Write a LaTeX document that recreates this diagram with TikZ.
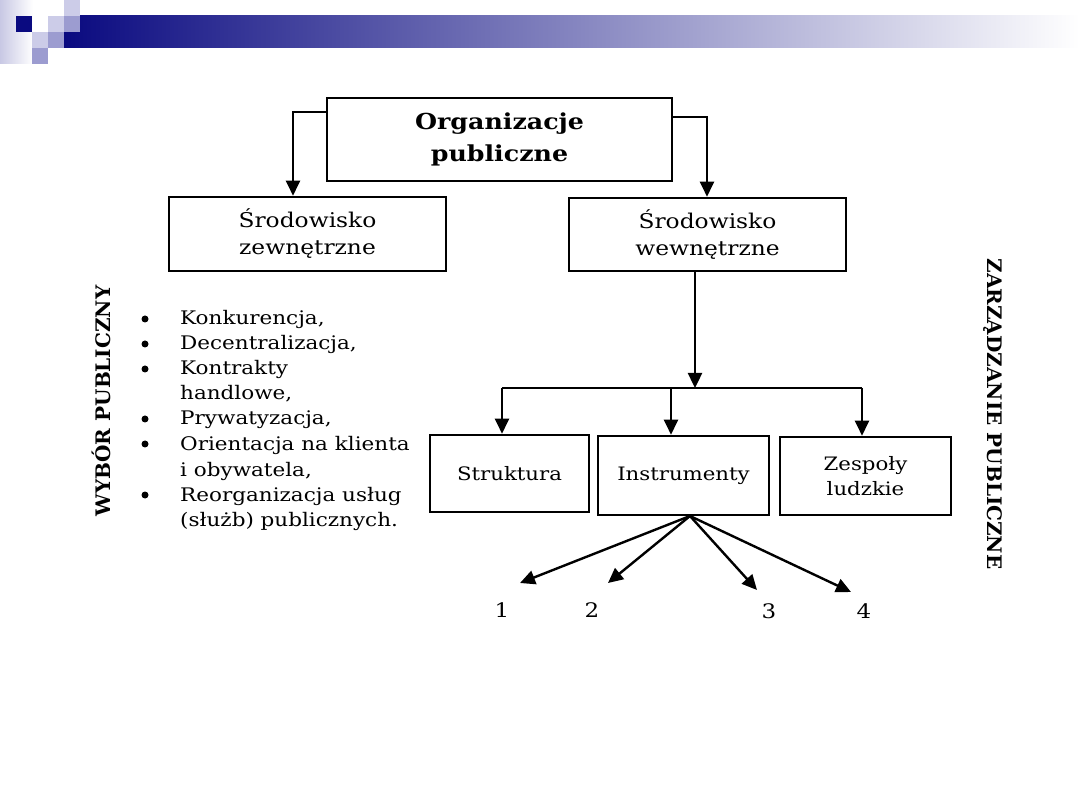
\documentclass[tikz,border=0pt]{standalone}
\usepackage{fontspec}
\setmainfont{DejaVu Serif}[FakeStretch=1.15]
\newfontfamily\plainserif{DejaVu Serif}
\usetikzlibrary{arrows.meta}
\definecolor{navy}{RGB}{10,10,128}
\definecolor{lightlav}{RGB}{204,204,232}
\definecolor{medlav}{RGB}{156,156,208}
\definecolor{pale}{RGB}{200,200,228}
\tikzset{
  box/.style={draw=black, line width=2.6pt, fill=white, inner sep=0pt, align=center,
              font=\fontsize{20.3}{27}\selectfont},
  smallbox/.style={box, font=\fontsize{18.5}{25}\selectfont},
  arr/.style={line width=2.4pt, -{Triangle[length=15pt,width=14pt]}},
  conn/.style={line width=2.4pt},
  itemtext/.style={anchor=base west, inner sep=0pt, font=\fontsize{18.7}{25}\selectfont},
  bul/.style={circle, fill=black, inner sep=0pt, minimum size=7pt},
  vlabel/.style={font=\plainserif\bfseries\fontsize{20}{24}\selectfont, inner sep=0pt},
  num/.style={font=\fontsize{20}{25}\selectfont, inner sep=0pt}
}
\begin{document}
\begin{tikzpicture}[x=1pt,y=-1pt]
\useasboundingbox (0,0) rectangle (1080,810);
% ---- banner ----
\shade[left color=pale, right color=white] (0,0) rectangle (33,64);
\shade[left color=navy, right color=white] (64,16) rectangle (1080,48);
\fill[navy] (16,16) rectangle (32,32);
\fill[lightlav] (64,0) rectangle (80,16);
\fill[lightlav] (48,16) rectangle (64,32);
\fill[medlav] (64,16) rectangle (80,32);
\fill[lightlav] (32,32) rectangle (48,48);
\fill[medlav] (48,32) rectangle (64,48);
\fill[medlav] (32,48) rectangle (48,64);
% ---- boxes ----
\node[box, minimum width=345pt, minimum height=83pt, font=\bfseries\fontsize{22}{32}\selectfont]
  (org) at (499.5,139.5) {Organizacje\\publiczne};
\node[box, minimum width=277pt, minimum height=74pt] (lb) at (307.5,234) {Środowisko\\zewnętrzne};
\node[box, minimum width=277pt, minimum height=73pt] (rb) at (707.5,234.5) {Środowisko\\wewnętrzne};
\node[smallbox, minimum width=159pt, minimum height=77pt] (s) at (509.5,473.5) {Struktura};
\node[smallbox, minimum width=171pt, minimum height=79pt] (ins) at (683.5,475.5) {Instrumenty};
\node[smallbox, minimum width=171pt, minimum height=78pt] (z) at (865.5,476) {Zespoły\\ludzkie};
% ---- top connectors ----
\coordinate (la) at (293,112);
\coordinate (ra) at (707,117);
\draw[arr] (org.west |- la) -- (la) -- (la |- lb.north);
\draw[arr] (org.east |- ra) -- (ra) -- (ra |- rb.north);
% ---- distribution ----
\coordinate (hub) at (695,388);
\coordinate (hl) at (502,388);
\coordinate (hm) at (671,388);
\coordinate (hr) at (862,388);
\draw[arr] (rb.south -| hub) -- (hub);
\draw[conn] (hl) -- (hr);
\draw[arr] (hl) -- (hl |- s.north);
\draw[arr] (hm) -- (hm |- ins.north);
\draw[arr] (hr) -- (hr |- z.north);
% ---- fan ----
\coordinate (fan) at (690,516);
\coordinate (t1) at (520,583);
\coordinate (t2) at (608,583);
\coordinate (t3) at (757,590);
\coordinate (t4) at (851,592);
\draw[arr] (fan) -- (t1);
\draw[arr] (fan) -- (t2);
\draw[arr] (fan) -- (t3);
\draw[arr] (fan) -- (t4);
\node[num] (n1) at (502,610) {1};
\node[num] (n2) at (592,610) {2};
\node[num] (n3) at (769,611) {3};
\node[num] (n4) at (864,611) {4};
% ---- bullet list ----
\node[itemtext] (l0) at (180,325) {Konkurencja,};
\node[itemtext] (l1) at (180,350) {Decentralizacja,};
\node[itemtext] (l2) at (180,375) {Kontrakty};
\node[itemtext] (l3) at (180,400) {handlowe,};
\node[itemtext] (l4) at (180,425) {Prywatyzacja,};
\node[itemtext] (l5) at (180,450) {Orientacja na klienta};
\node[itemtext] (l6) at (180,476) {i obywatela,};
\node[itemtext] (l7) at (180,501) {Reorganizacja usług};
\node[itemtext] (l8) at (180,526) {(służb) publicznych.};
\node[bul] (b0) at (145,319) {};
\node[bul] (b1) at (145,344) {};
\node[bul] (b2) at (145,369) {};
\node[bul] (b4) at (145,419) {};
\node[bul] (b5) at (145,444) {};
\node[bul] (b7) at (145,495) {};
% ---- vertical labels ----
\node[vlabel, rotate=90] (wp) at (101,401) {WYBÓR PUBLICZNY};
\node[vlabel, rotate=-90] (zp) at (993,414) {ZARZĄDZANIE PUBLICZNE};
\end{tikzpicture}
\end{document}
